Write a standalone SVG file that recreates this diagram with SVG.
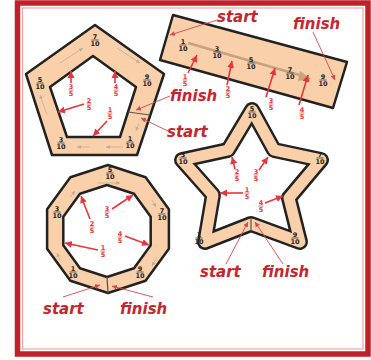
<svg xmlns="http://www.w3.org/2000/svg" width="371" height="360" viewBox="0 0 371 360">
<style>
.band{fill:#F9D0A9;stroke:#222;stroke-width:2.5;stroke-linejoin:round;fill-rule:evenodd}
.fr text{font-family:"DejaVu Sans",sans-serif;font-weight:bold;font-size:6.5px;text-anchor:middle;fill:#222}
.fr line{stroke:#222;stroke-width:0.7}
.rf text{fill:#E8343C}
.rf line{stroke:#E8343C}
.lbl{font-family:"DejaVu Sans",sans-serif;font-weight:bold;font-style:italic;font-size:15px;fill:#C4262E}
.arr{stroke:#E8343C;stroke-width:1.6;fill:none;marker-end:url(#ah)}
.lead{stroke:#D9474D;stroke-width:0.9;fill:none;marker-end:url(#sh)}
.dir{stroke:#BFAE9C;stroke-width:0.8;fill:none;marker-end:url(#gh)}
.cut{stroke:#555;stroke-width:1.2}
</style>
<defs>
<marker id="ah" markerUnits="userSpaceOnUse" markerWidth="8" markerHeight="8" refX="7" refY="4" orient="auto"><path d="M0,0.5 L7,4 L0,7.5 Z" fill="#E8343C"/></marker>
<marker id="sh" markerUnits="userSpaceOnUse" markerWidth="6" markerHeight="6" refX="5" refY="3" orient="auto"><path d="M0,0.5 L5,3 L0,5.5 Z" fill="#D9474D"/></marker>
<marker id="gh" markerUnits="userSpaceOnUse" markerWidth="5" markerHeight="5" refX="4" refY="2.5" orient="auto"><path d="M0,0.5 L4,2.5 L0,4.5 Z" fill="#BFAE9C"/></marker>
</defs>
<rect x="0" y="0" width="371" height="360" fill="#fff"/>
<rect id="frame" x="17.5" y="3" width="350.5" height="351" fill="none" stroke="#C0202A" stroke-width="5.5"/>
<rect x="22.5" y="8" width="340.5" height="341" fill="none" stroke="#EBA5A5" stroke-width="1.2"/>

<g id="pentagon">
<path class="band" d="M95,25 L164,74 L137,155 L52,155 L26,74 Z M93,56 L136,87 L120,137 L67,137 L50,87 Z"/>
<line class="cut" x1="128" y1="112" x2="150" y2="115"/>
<line class="dir" x1="60" y1="63" x2="83" y2="48"/>
<line class="dir" x1="117" y1="48" x2="140" y2="63"/>
<line class="dir" x1="139" y1="123" x2="136" y2="131"/>
<line class="dir" x1="123" y1="147" x2="106" y2="147"/>
<line class="dir" x1="90" y1="147" x2="77" y2="147"/>
<line class="dir" x1="47" y1="115" x2="40" y2="95"/>
<g class="fr" transform="translate(95,40)"><text y="-1">7</text><line x1="-3.5" x2="3.5"/><text y="6">10</text></g>
<g class="fr" transform="translate(147,80)"><text y="-1">9</text><line x1="-3.5" x2="3.5"/><text y="6">10</text></g>
<g class="fr" transform="translate(40,83)"><text y="-1">5</text><line x1="-3.5" x2="3.5"/><text y="6">10</text></g>
<g class="fr" transform="translate(61,143)"><text y="-1">3</text><line x1="-3.5" x2="3.5"/><text y="6">10</text></g>
<g class="fr" transform="translate(130,142)"><text y="-1">1</text><line x1="-3.5" x2="3.5"/><text y="6">10</text></g>
<g class="fr rf" transform="translate(110,113)"><text y="-1">1</text><line x1="-2.5" x2="2.5"/><text y="6">5</text></g>
<g class="fr rf" transform="translate(89,104)"><text y="-1">2</text><line x1="-2.5" x2="2.5"/><text y="6">5</text></g>
<g class="fr rf" transform="translate(71,90)"><text y="-1">3</text><line x1="-2.5" x2="2.5"/><text y="6">5</text></g>
<g class="fr rf" transform="translate(116,90)"><text y="-1">4</text><line x1="-2.5" x2="2.5"/><text y="6">5</text></g>
<line class="arr" x1="107" y1="121" x2="93" y2="136"/>
<line class="arr" x1="84" y1="104" x2="58" y2="112"/>
<line class="arr" x1="71" y1="83" x2="71" y2="71"/>
<line class="arr" x1="115" y1="83" x2="115" y2="71"/>
<line class="lead" x1="170" y1="96" x2="136" y2="110"/>
<line class="lead" x1="168" y1="131" x2="141" y2="118"/>
<text class="lbl" x="170" y="101">finish</text>
<text class="lbl" x="167" y="137">start</text>
</g>

<g id="rectangle">
<path class="band" d="M173,15 L347,62 L333,108 L160,60 Z"/>
<line x1="188" y1="43" x2="303" y2="76" stroke="#C6A27F" stroke-width="2.5"/>
<path d="M300,71 L311,79 L298,81 Z" fill="#C6A27F"/>
<g class="fr" transform="translate(183,45)"><text y="-1">1</text><line x1="-3.5" x2="3.5"/><text y="6">10</text></g>
<g class="fr" transform="translate(217,52)"><text y="-1">3</text><line x1="-3.5" x2="3.5"/><text y="6">10</text></g>
<g class="fr" transform="translate(251,63)"><text y="-1">5</text><line x1="-3.5" x2="3.5"/><text y="6">10</text></g>
<g class="fr" transform="translate(290,73)"><text y="-1">7</text><line x1="-3.5" x2="3.5"/><text y="6">10</text></g>
<g class="fr" transform="translate(323,80)"><text y="-1">9</text><line x1="-3.5" x2="3.5"/><text y="6">10</text></g>
<g class="fr rf" transform="translate(185,80)"><text y="-1">1</text><line x1="-2.5" x2="2.5"/><text y="6">5</text></g>
<g class="fr rf" transform="translate(228,92)"><text y="-1">2</text><line x1="-2.5" x2="2.5"/><text y="6">5</text></g>
<g class="fr rf" transform="translate(271,104)"><text y="-1">3</text><line x1="-2.5" x2="2.5"/><text y="6">5</text></g>
<g class="fr rf" transform="translate(302,113)"><text y="-1">4</text><line x1="-2.5" x2="2.5"/><text y="6">5</text></g>
<line class="arr" x1="188" y1="73" x2="197" y2="55"/>
<line class="arr" x1="227" y1="85" x2="232" y2="61"/>
<line class="arr" x1="266" y1="97" x2="275" y2="68"/>
<line class="arr" x1="299" y1="105" x2="308" y2="75"/>
<line class="lead" x1="217" y1="20" x2="170" y2="35"/>
<line class="lead" x1="313" y1="32" x2="335" y2="80"/>
<text class="lbl" x="217" y="22">start</text>
<text class="lbl" x="293" y="29">finish</text>
</g>

<g id="star">
<path d="M252,110 L274,150 L321,160 L289,198 L300,242 L251,224 L205,242 L213,195 L182,160 L228,150 Z" fill="none" stroke="#222" stroke-width="16" stroke-linejoin="round"/>
<path d="M252,110 L274,150 L321,160 L289,198 L300,242 L251,224 L205,242 L213,195 L182,160 L228,150 Z" fill="none" stroke="#F9D0A9" stroke-width="11" stroke-linejoin="round"/>
<line class="cut" x1="251" y1="218" x2="251" y2="231"/>
<g class="fr" transform="translate(252,112)"><text y="-1">5</text><line x1="-3.5" x2="3.5"/><text y="6">10</text></g>
<g class="fr" transform="translate(183,158)"><text y="-1">3</text><line x1="-3.5" x2="3.5"/><text y="6">10</text></g>
<g class="fr" transform="translate(320,158)"><text y="-1">7</text><line x1="-3.5" x2="3.5"/><text y="6">10</text></g>
<g class="fr" transform="translate(199,238)"><text y="-1">1</text><line x1="-3.5" x2="3.5"/><text y="6">10</text></g>
<g class="fr" transform="translate(295,238)"><text y="-1">9</text><line x1="-3.5" x2="3.5"/><text y="6">10</text></g>
<g class="fr rf" transform="translate(247,193)"><text y="-1">1</text><line x1="-2.5" x2="2.5"/><text y="6">5</text></g>
<g class="fr rf" transform="translate(237,175)"><text y="-1">2</text><line x1="-2.5" x2="2.5"/><text y="6">5</text></g>
<g class="fr rf" transform="translate(256,175)"><text y="-1">3</text><line x1="-2.5" x2="2.5"/><text y="6">5</text></g>
<g class="fr rf" transform="translate(261,206)"><text y="-1">4</text><line x1="-2.5" x2="2.5"/><text y="6">5</text></g>
<line class="arr" x1="243" y1="193" x2="220" y2="193"/>
<line class="arr" x1="235" y1="169" x2="232" y2="157"/>
<line class="arr" x1="259" y1="170" x2="268" y2="157"/>
<line class="arr" x1="265" y1="203" x2="283" y2="196"/>
<line class="lead" x1="226" y1="264" x2="248" y2="222"/>
<line class="lead" x1="283" y1="264" x2="255" y2="222"/>
<text class="lbl" x="200" y="277">start</text>
<text class="lbl" x="262" y="277">finish</text>
</g>

<g id="decagon">
<path class="band" d="M108,165 L145.6,177.2 L168.9,209.2 L168.9,248.8 L145.6,280.8 L108,293 L70.4,280.8 L47.1,248.8 L47.1,209.2 L70.4,177.2 Z M107,185 L134,193.8 L150.7,216.8 L150.7,245.2 L134,268.2 L107,277 L80,268.2 L63.3,245.2 L63.3,216.8 L80,193.8 Z"/>
<line class="cut" x1="107" y1="277" x2="108" y2="293"/>
<line class="dir" x1="70" y1="197" x2="75" y2="191"/>
<line class="dir" x1="98" y1="183" x2="120" y2="183"/>
<line class="dir" x1="152" y1="200" x2="156" y2="207"/>
<line class="dir" x1="157" y1="257" x2="152" y2="266"/>
<line class="dir" x1="60" y1="260" x2="57" y2="253"/>
<g class="fr" transform="translate(110,173)"><text y="-1">5</text><line x1="-3.5" x2="3.5"/><text y="6">10</text></g>
<g class="fr" transform="translate(57,212)"><text y="-1">3</text><line x1="-3.5" x2="3.5"/><text y="6">10</text></g>
<g class="fr" transform="translate(162,214)"><text y="-1">7</text><line x1="-3.5" x2="3.5"/><text y="6">10</text></g>
<g class="fr" transform="translate(73,272)"><text y="-1">1</text><line x1="-3.5" x2="3.5"/><text y="6">10</text></g>
<g class="fr" transform="translate(140,272)"><text y="-1">9</text><line x1="-3.5" x2="3.5"/><text y="6">10</text></g>
<g class="fr rf" transform="translate(103,251)"><text y="-1">1</text><line x1="-2.5" x2="2.5"/><text y="6">5</text></g>
<g class="fr rf" transform="translate(92,227)"><text y="-1">2</text><line x1="-2.5" x2="2.5"/><text y="6">5</text></g>
<g class="fr rf" transform="translate(107,212)"><text y="-1">3</text><line x1="-2.5" x2="2.5"/><text y="6">5</text></g>
<g class="fr rf" transform="translate(120,237)"><text y="-1">4</text><line x1="-2.5" x2="2.5"/><text y="6">5</text></g>
<line class="arr" x1="98" y1="250" x2="65" y2="243"/>
<line class="arr" x1="90" y1="219" x2="81" y2="196"/>
<line class="arr" x1="112" y1="209" x2="133" y2="195"/>
<line class="arr" x1="125" y1="236" x2="149" y2="245"/>
<line class="lead" x1="63" y1="297" x2="100" y2="285"/>
<line class="lead" x1="153" y1="297" x2="112" y2="286"/>
<text class="lbl" x="43" y="314">start</text>
<text class="lbl" x="120" y="314">finish</text>
</g>
</svg>
